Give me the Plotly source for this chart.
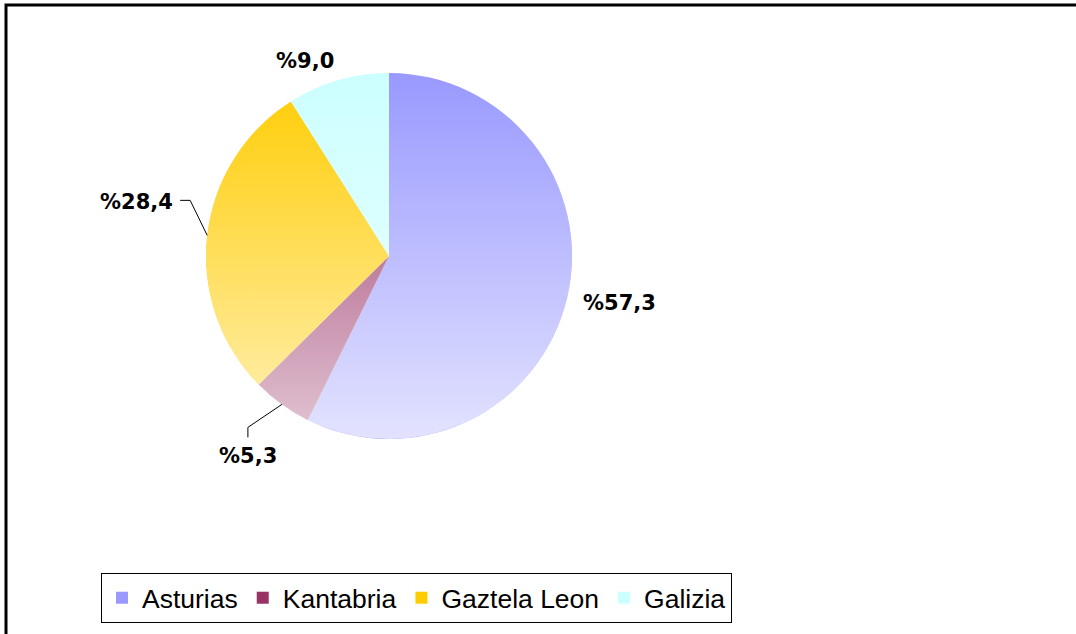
import base64
import math
import plotly.graph_objects as go

# ---- data ----
regions = ["Asturias", "Kantabria", "Gaztela Leon", "Galizia"]
shares = [57.3, 5.3, 28.4, 9.0]
colors = ["#9999FF", "#993366", "#FFCC00", "#CCFFFF"]

W, H = 1076, 634
# pie placement in pixels
cx, cy, R = 389, 256, 183

def px(x):
    return x / W

def py(y):
    return 1 - y / H

labels_txt = ["%" + f"{v:.1f}".replace(".", ",") for v in shares]

fig = go.Figure()
fig.add_trace(go.Pie(
    labels=regions,
    values=shares,
    sort=False,
    direction="clockwise",
    rotation=0,
    marker=dict(colors=colors, line=dict(width=0)),
    textinfo="none",
    hoverinfo="label+percent",
    domain=dict(x=[px(cx - R), px(cx + R)], y=[py(cy + R), py(cy - R)]),
))

# label placement (offsets from slice edge midpoint, in px) and leader elbows
placements = [
    dict(dx=52, dy=5, xanchor="center", leader=None),
    dict(dx=-34, dy=52, xanchor="center", leader=[(-34, 23), (-34, 33)]),
    dict(dx=-32, dy=-33, xanchor="right", leader=[(-17, -35), (-27, -35)]),
    dict(dx=-33, dy=-19, xanchor="center", leader=None),
]
total = sum(shares)
cum = 0
annotations = []
shapes = []
font = dict(family="DejaVu Sans", size=21, color="black")
for v, t, p in zip(shares, labels_txt, placements):
    mid = (cum + v / 2) / total * 2 * math.pi
    cum += v
    ex = cx + R * math.sin(mid)
    ey = cy - R * math.cos(mid)
    annotations.append(dict(
        x=px(ex + p["dx"]), y=py(ey + p["dy"]), xref="paper", yref="paper",
        text="<b>" + t + "</b>", showarrow=False, font=font,
        xanchor=p["xanchor"], yanchor="middle",
    ))
    if p["leader"]:
        pts = [(ex, ey)] + [(ex + a, ey + b) for a, b in p["leader"]]
        path = "M " + " L ".join(f"{px(a):.5f},{py(b):.5f}" for a, b in pts)
        shapes.append(dict(type="path", xref="paper", yref="paper", path=path,
                           line=dict(color="black", width=1)))

# outer frame
shapes.append(dict(
    type="rect", xref="paper", yref="paper",
    x0=px(6), x1=1.05, y0=-0.05, y1=py(5),
    line=dict(color="black", width=3), fillcolor="rgba(0,0,0,0)",
))

# gradient overlay (white, transparent at top to light at bottom)
svg = (
    f"<svg xmlns='http://www.w3.org/2000/svg' width='{2*R}' height='{2*R}'>"
    "<defs><linearGradient id='g' x1='0' y1='0' x2='0' y2='1'>"
    "<stop offset='0' stop-color='white' stop-opacity='0'/>"
    "<stop offset='1' stop-color='white' stop-opacity='0.72'/>"
    "</linearGradient></defs>"
    f"<circle cx='{R}' cy='{R}' r='{R}' fill='url(#g)'/></svg>"
)
src = "data:image/svg+xml;base64," + base64.b64encode(svg.encode()).decode()

fig.update_layout(
    width=W, height=H,
    margin=dict(l=0, r=0, t=0, b=0),
    paper_bgcolor="white",
    plot_bgcolor="white",
    showlegend=True,
    legend=dict(
        orientation="h",
        x=px(101), y=py(573), xanchor="left", yanchor="top",
        bordercolor="black", borderwidth=1,
        font=dict(family="Liberation Sans", size=26.5, color="black"),
        itemsizing="constant",
    ),
    annotations=annotations,
    images=[dict(
        source=src, xref="paper", yref="paper",
        x=px(cx - R), y=py(cy - R), sizex=2 * R / W, sizey=2 * R / H,
        xanchor="left", yanchor="top", sizing="stretch", layer="above",
    )],
    shapes=shapes,
)

fig.write_html(
    "out.html",
    config={"displayModeBar": False},
    post_script="document.body.style.margin='0';document.body.style.overflow='hidden';",
)
